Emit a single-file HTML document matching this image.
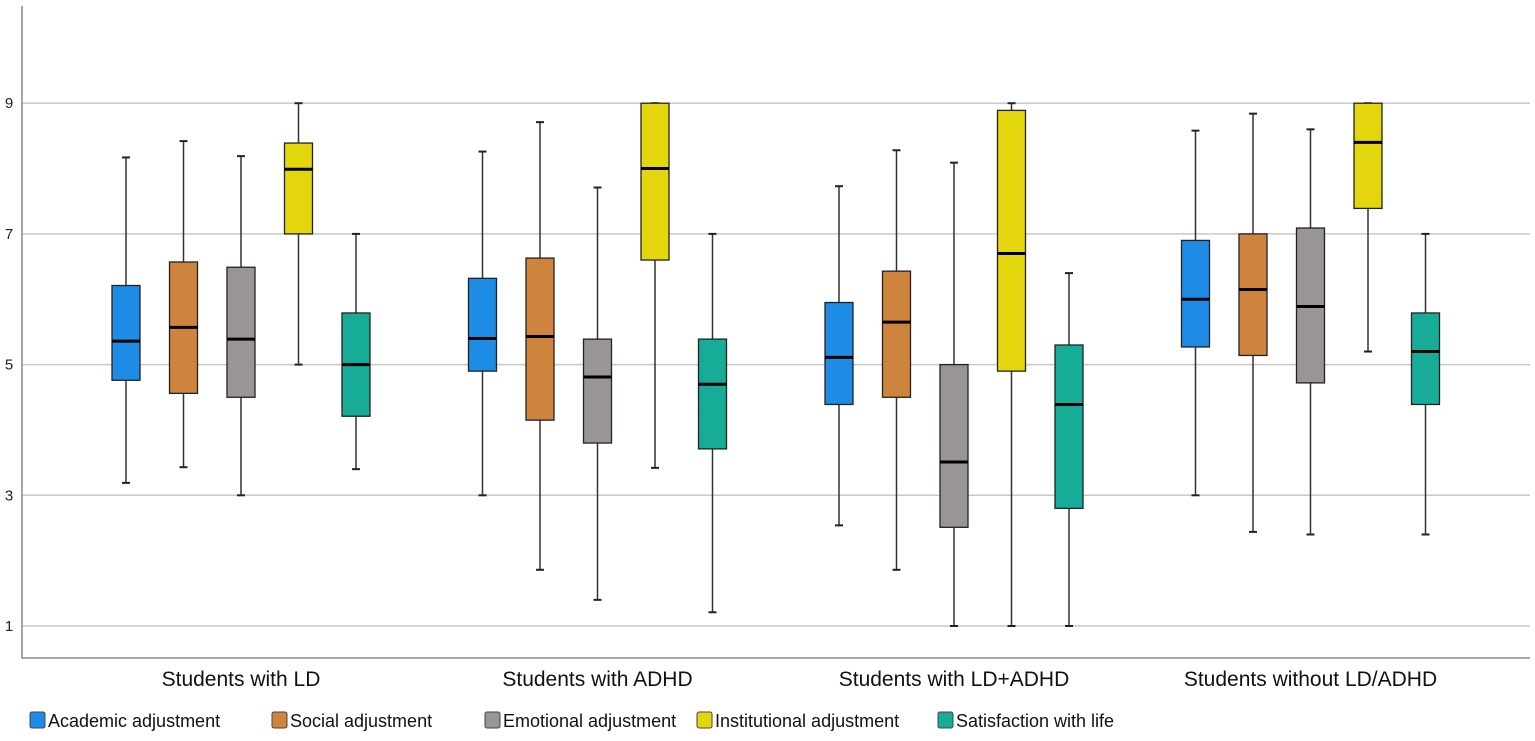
<!DOCTYPE html>
<html><head><meta charset="utf-8"><style>
html,body{margin:0;padding:0;background:#fff;}
svg{display:block;font-family:"Liberation Sans",sans-serif;}
</style></head><body>
<svg id="chart" width="1535" height="741" viewBox="0 0 1535 741"></svg>
<script>
const categories=["Students with LD","Students with ADHD","Students with LD+ADHD","Students without LD/ADHD"];
const seriesNames=["Academic adjustment","Social adjustment","Emotional adjustment","Institutional adjustment","Satisfaction with life"];
const colors=["#1e8be4","#cf843e","#999595","#e4d60c","#17ac97"];
const yTicks=[1,3,5,7,9];
// [whiskerLow, q1, median, q3, whiskerHigh] per series per category
const academic=[[3.19,4.76,5.36,6.21,8.17],[3.0,4.9,5.40,6.32,8.26],[2.54,4.39,5.11,5.95,7.73],[3.0,5.27,6.0,6.9,8.58]];
const social=[[3.43,4.56,5.57,6.57,8.42],[1.86,4.15,5.43,6.63,8.71],[1.86,4.5,5.65,6.43,8.28],[2.44,5.14,6.15,7.0,8.84]];
const emotional=[[3.0,4.5,5.39,6.49,8.19],[1.4,3.8,4.81,5.39,7.71],[1.0,2.51,3.51,5.0,8.09],[2.4,4.72,5.89,7.09,8.6]];
const institutional=[[5.0,7.0,7.99,8.39,9.0],[3.42,6.6,8.0,9.0,9.0],[1.0,4.9,6.7,8.89,9.0],[5.2,7.39,8.4,9.0,9.0]];
const satisfaction=[[3.4,4.21,5.0,5.79,7.0],[1.21,3.71,4.7,5.39,7.0],[1.0,2.8,4.39,5.3,6.4],[2.4,4.39,5.2,5.79,7.0]];
const allSeries=[academic,social,emotional,institutional,satisfaction];

const svg=document.getElementById('chart');
const NS="http://www.w3.org/2000/svg";
function mk(tag,attrs,parent){const e=document.createElementNS(NS,tag);for(const k in attrs)e.setAttribute(k,attrs[k]);(parent||svg).appendChild(e);return e;}
const plotL=22,plotR=1530,plotT=6,plotB=658;
function y(v){return 626-(v-1)*65.35;}
function xCat(i){return 241+i*356.5;}
function xBox(i,s){return xCat(i)+(s-2)*57.5;}

yTicks.forEach(t=>{
  const g=mk('line',{x1:plotL,x2:plotR,y1:y(t),y2:y(t),stroke:'#c8c8c8','stroke-width':1.5});
  
  
  const tx=mk('text',{x:9,y:y(t)+5,'font-size':15,fill:'#222','text-anchor':'middle'});
  tx.textContent=t;
  
  
});
const ax=mk('path',{d:`M${plotL},${plotT}V${plotB}H${plotR}`,fill:'none',stroke:'#888','stroke-width':1.5});



categories.forEach((c,i)=>{
  const t=mk('text',{x:xCat(i),y:686,'font-size':21,fill:'#111','text-anchor':'middle'});
  t.textContent=c;
  
  
  allSeries.forEach((ser,s)=>{
    const d=ser[i],cx=xBox(i,s),w=28;
    const g=mk('g',{});
    
    
    mk('line',{x1:cx,x2:cx,y1:y(d[4]),y2:y(d[0]),stroke:'#333','stroke-width':1.5},g);
    mk('line',{x1:cx-4,x2:cx+4,y1:y(d[4]),y2:y(d[4]),stroke:'#222','stroke-width':2},g);
    mk('line',{x1:cx-4,x2:cx+4,y1:y(d[0]),y2:y(d[0]),stroke:'#222','stroke-width':2},g);
    mk('rect',{x:cx-w/2,y:y(d[3]),width:w,height:y(d[1])-y(d[3]),fill:colors[s],stroke:'#222','stroke-width':1.3},g);
    mk('line',{x1:cx-w/2,x2:cx+w/2,y1:y(d[2]),y2:y(d[2]),stroke:'#000','stroke-width':3},g);
  });
});

const legX=[30,272,485,697,938];
seriesNames.forEach((n,s)=>{
  const g=mk('g',{});
  
  
  mk('rect',{x:legX[s],y:712,width:15,height:16,fill:colors[s],stroke:'#444','stroke-width':1,rx:2},g);
  const t=mk('text',{x:legX[s]+18,y:727,'font-size':18,fill:'#111'},g);
  t.textContent=n;
});
</script>
</body></html>
